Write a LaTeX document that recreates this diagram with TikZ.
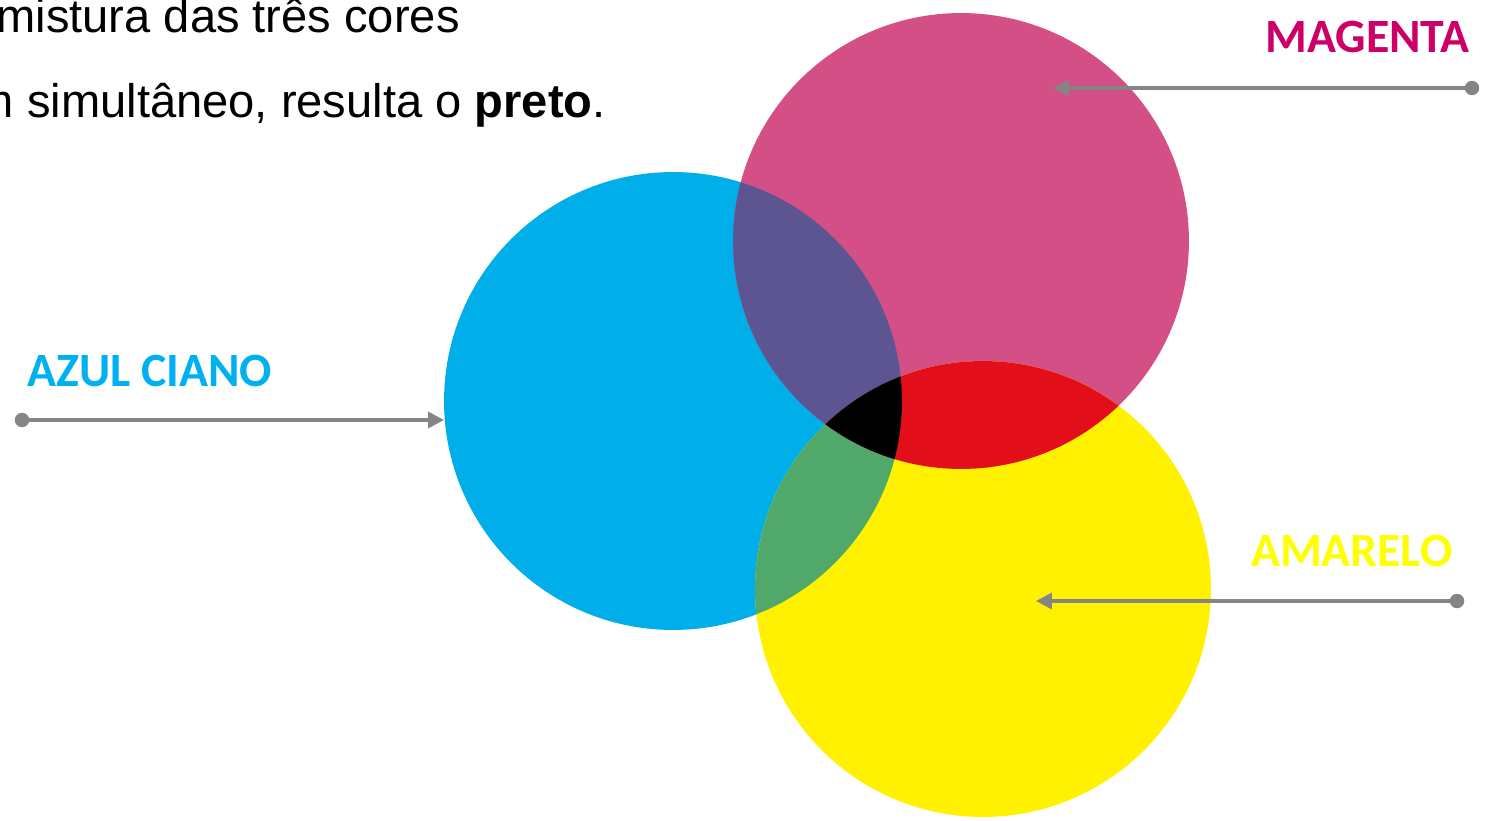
\documentclass[tikz,border=0pt]{standalone}
\usepackage{fontspec}
\setmainfont{Liberation Sans}
\newfontfamily\labelfont{Carlito}
\usetikzlibrary{arrows.meta}
\definecolor{cyanc}{HTML}{00AEEA}
\definecolor{magentac}{HTML}{D54F87}
\definecolor{yellowc}{HTML}{FFF100}
\definecolor{purplec}{HTML}{5D5592}
\definecolor{redc}{HTML}{E20E1A}
\definecolor{greenc}{HTML}{51A86B}
\definecolor{arrowgray}{HTML}{858585}
\definecolor{cyantext}{HTML}{00B0F0}
\definecolor{magentatext}{HTML}{CC0066}
\definecolor{yellowtext}{HTML}{FFFF00}
\newcommand{\cyandisc}{(673,401) circle[radius=4.58cm]}
\newcommand{\magentadisc}{(961,241) circle[radius=4.56cm]}
\newcommand{\yellowdisc}{(983,589) circle[radius=4.56cm]}
\begin{document}
\begin{tikzpicture}[
    x=0.02cm, y=-0.02cm,
    bodytext/.style={font=\fontsize{26.8}{32}\selectfont, inner sep=0pt, anchor=base east},
    colorlabel/.style={font=\labelfont\bfseries\fontsize{27.2}{32}\selectfont, inner sep=0pt},
    enddot/.style={circle, fill=arrowgray, inner sep=0pt, minimum size=0.29cm},
    pointer/.style={draw=arrowgray, line width=2pt, -{Triangle[length=9pt, width=9pt]}}
    ]
    \clip (0,0) rectangle (1489,821);
    % circles
    \fill[cyanc] \cyandisc;
    \fill[magentac] \magentadisc;
    \fill[yellowc] \yellowdisc;
    % overlaps
    \begin{scope}
      \clip \cyandisc;
      \fill[purplec] \magentadisc;
      \fill[greenc] \yellowdisc;
    \end{scope}
    \begin{scope}
      \clip \magentadisc;
      \fill[redc] \yellowdisc;
    \end{scope}
    \begin{scope}
      \clip \cyandisc;
      \clip \magentadisc;
      \fill[black] \yellowdisc;
    \end{scope}
    % text
    \node[bodytext] (line1) at (460,33) {mistura das três cores};
    \node[bodytext] (line2) at (606,118) {m simultâneo, resulta o \textbf{preto}.};
    % labels
    \node[colorlabel, text=cyantext, anchor=base west] (cyanlabel) at (27,386) {AZUL CIANO};
    \node[colorlabel, text=magentatext, anchor=base east] (magentalabel) at (1470,53) {MAGENTA};
    \node[colorlabel, text=yellowtext, anchor=base east] (yellowlabel) at (1453,566) {AMARELO};
    % pointers
    \node[enddot] (cyandot) at (22,420) {};
    \coordinate (cyantip) at (444,420);
    \node[enddot] (magentadot) at (1472,88) {};
    \coordinate (magentatip) at (1053,88);
    \node[enddot] (yellowdot) at (1457,601) {};
    \coordinate (yellowtip) at (1036,601);
    \draw[pointer] (cyandot.center) -- (cyantip);
    \draw[pointer] (magentadot.center) -- (magentatip);
    \draw[pointer] (yellowdot.center) -- (yellowtip);
\end{tikzpicture}
\end{document}
